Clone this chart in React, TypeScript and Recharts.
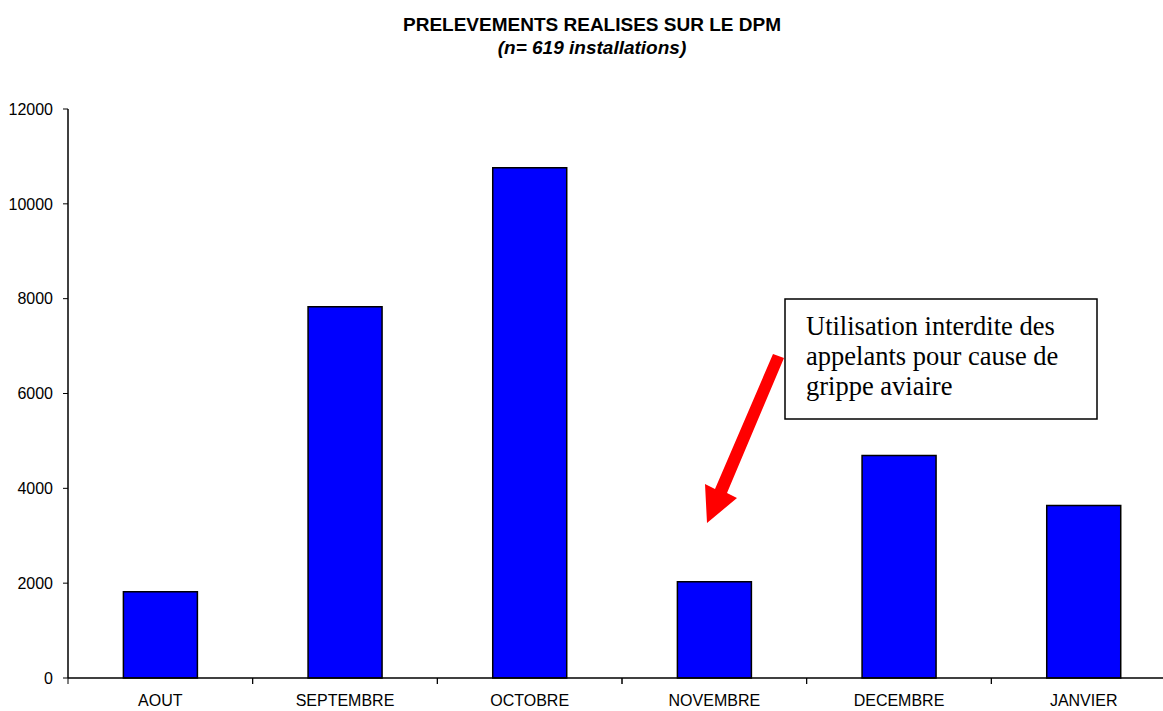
import { BarChart, Bar, XAxis, YAxis } from "recharts";

const months = ["AOUT", "SEPTEMBRE", "OCTOBRE", "NOVEMBRE", "DECEMBRE", "JANVIER"];
const prelevements = [1820, 7830, 10760, 2030, 4690, 3640];
const yTicks = [0, 2000, 4000, 6000, 8000, 10000, 12000];

const data = months.map((m, i) => ({ name: m, value: prelevements[i] }));

const font = "'Liberation Sans', Arial, sans-serif";
const LABEL_GAP = 17;

// category label plus a tick mark on the left boundary of each band
const MonthTick = ({ x, y, payload }: any) => {
  const half = payload && payload.offset ? payload.offset : 92.3;
  const axisY = y - LABEL_GAP;
  return (
    <g>
      <line x1={x - half} x2={x - half} y1={axisY} y2={axisY + 6} stroke="#000" strokeWidth={1} />
      <line x1={x + half} x2={x + half} y1={axisY} y2={axisY + 6} stroke="#000" strokeWidth={1} />
      <text
        x={x}
        y={y}
        dy="0.71em"
        textAnchor="middle"
        fill="#000"
        fontSize={16}
        fontFamily={font}
      >
        {payload.value}
      </text>
    </g>
  );
};

const App = () => {
  return (
    <div
      style={{
        position: "absolute",
        left: 0,
        top: 0,
        width: 1163,
        height: 711,
        overflow: "hidden",
        background: "#fff",
      }}
    >
      <BarChart
        width={1200}
        height={711}
        data={data}
        margin={{ top: 109, right: 24, left: 0, bottom: 0 }}
        barCategoryGap="30%"
      >
        <XAxis
          dataKey="name"
          height={33}
          axisLine={{ stroke: "#000", strokeWidth: 1.5 }}
          tickLine={false}
          tickSize={0}
          tickMargin={LABEL_GAP}
          interval={0}
          tick={<MonthTick />}
        />
        <YAxis
          width={68}
          domain={[0, 12000]}
          ticks={yTicks}
          axisLine={{ stroke: "#000", strokeWidth: 1.5 }}
          tickLine={{ stroke: "#000", strokeWidth: 1 }}
          tickSize={5}
          tickMargin={10}
          tick={{ fill: "#000", fontSize: 16, fontFamily: font }}
        />
        <Bar
          dataKey="value"
          fill="#0000FF"
          stroke="#000"
          strokeWidth={1.5}
          isAnimationActive={false}
        />
      </BarChart>

      <svg
        width={1163}
        height={711}
        style={{ position: "absolute", left: 0, top: 0, pointerEvents: "none" }}
      >
        <text
          x={592}
          y={30.5}
          textAnchor="middle"
          fontFamily={font}
          fontWeight="bold"
          fontSize={19}
          fill="#000"
        >
          PRELEVEMENTS REALISES SUR LE DPM
        </text>
        <text
          x={592}
          y={54}
          textAnchor="middle"
          fontFamily={font}
          fontWeight="bold"
          fontStyle="italic"
          fontSize={19}
          fill="#000"
        >
          (n= 619 installations)
        </text>

        <rect x={785} y={299} width={312} height={120} fill="#fff" stroke="#000" strokeWidth={1.5} />
        <g fontFamily="'Liberation Serif', 'Times New Roman', serif" fontSize={26.5} fill="#000">
          <text x={806} y={335}>Utilisation interdite des</text>
          <text x={806} y={365}>appelants pour cause de</text>
          <text x={806} y={395}>grippe aviaire</text>
        </g>

        <polygon
          points="773,354 784,358 727,493 737,498 707,523 705,484 715,489"
          fill="#FF0000"
        />
      </svg>
    </div>
  );
};

export default App;
